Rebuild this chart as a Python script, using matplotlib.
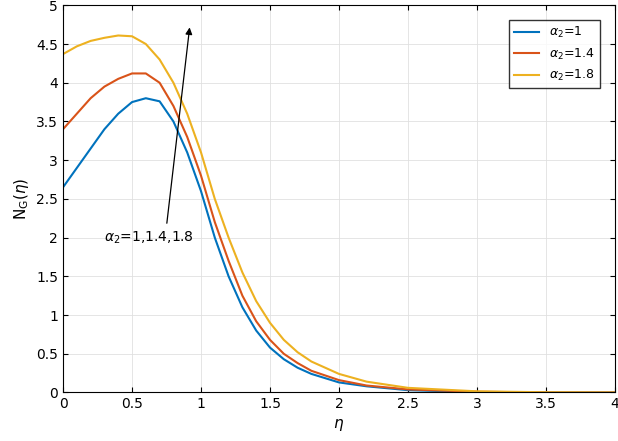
import matplotlib
matplotlib.use("Agg")
import matplotlib.pyplot as plt

eta = [0,0.1,0.2,0.3,0.4,0.5,0.6,0.7,0.8,0.9,1.0,1.1,1.2,1.3,1.4,1.5,1.6,1.7,1.8,2.0,2.2,2.5,3.0,3.5,4.0]
ng1 = [2.65,2.9,3.15,3.4,3.6,3.75,3.8,3.76,3.5,3.1,2.6,2.0,1.5,1.1,0.8,0.58,0.43,0.32,0.24,0.13,0.08,0.03,0.005,0.0,0.0]
ng14 = [3.4,3.6,3.8,3.95,4.05,4.12,4.12,4.0,3.7,3.3,2.8,2.2,1.7,1.25,0.92,0.68,0.5,0.38,0.28,0.16,0.09,0.04,0.01,0.0,0.0]
ng18 = [4.37,4.47,4.54,4.58,4.61,4.6,4.5,4.3,4.0,3.6,3.1,2.5,2.0,1.55,1.18,0.9,0.68,0.52,0.4,0.24,0.14,0.06,0.015,0.003,0.0]
labels = [r'$\alpha_2$=1', r'$\alpha_2$=1.4', r'$\alpha_2$=1.8']
colors = ['#0072BD', '#D95319', '#EDB120']

fig = plt.figure(figsize=(6.18, 4.41), dpi=100)
ax = fig.add_axes([0.102, 0.11, 0.893, 0.878])
for y, l, c in zip([ng1, ng14, ng18], labels, colors):
    ax.plot(eta, y, color=c, lw=1.5, label=l)
ax.set_xlim(0, 4)
ax.set_ylim(0, 5)
ax.set_xticks([0,0.5,1,1.5,2,2.5,3,3.5,4])
ax.set_xticklabels(['0','0.5','1','1.5','2','2.5','3','3.5','4'])
ax.set_yticks([0,0.5,1,1.5,2,2.5,3,3.5,4,4.5,5])
ax.set_yticklabels(['0','0.5','1','1.5','2','2.5','3','3.5','4','4.5','5'])
ax.grid(True, color='#e0e0e0', lw=0.6)
ax.tick_params(direction='in', labelsize=10, top=True, right=True)
ax.set_xlabel(r'$\eta$', fontsize=11)
ax.set_ylabel(r'N$_{\rm G}$($\eta$)', fontsize=11)
ax.legend(loc='upper right', fontsize=9, fancybox=False, edgecolor='black', borderaxespad=1.2)
ax.annotate('', xy=(0.92, 4.75), xytext=(0.75, 2.15),
            arrowprops=dict(arrowstyle='-|>', color='black', lw=0.9))
ax.text(0.3, 1.95, r'$\alpha_2$=1,1.4,1.8', fontsize=10)
fig.savefig('out.png', dpi=100)
